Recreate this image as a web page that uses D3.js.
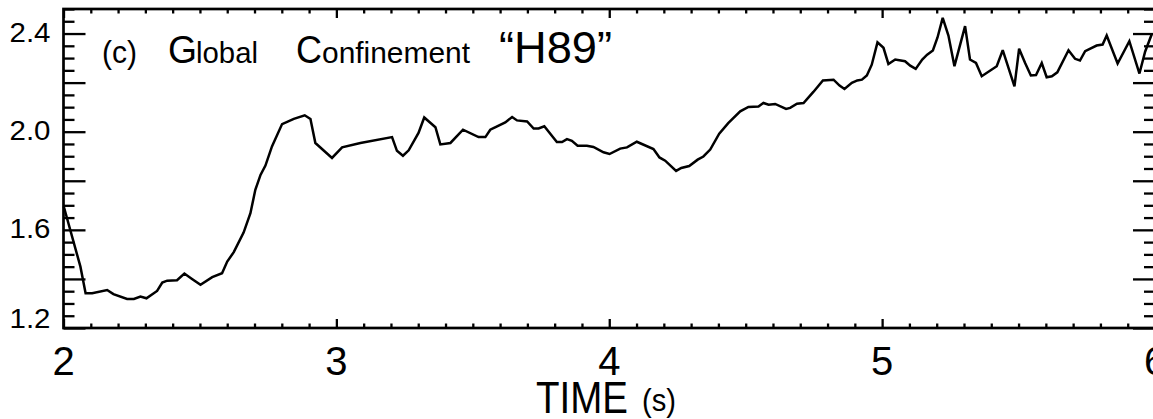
<!DOCTYPE html>
<html>
<head>
<meta charset="utf-8">
<script src="https://cdn.jsdelivr.net/npm/d3@7"></script>
<style>
  html, body { margin: 0; padding: 0; background: #fff; }
  svg { display: block; }
  text { font-family: "Liberation Sans", Arial, Helvetica, sans-serif; fill: #000; }
</style>
</head>
<body>
<svg id="chart" width="1153" height="419"></svg>
<script>
// ---- data ----
const time = [2.001,2.062,2.081,2.105,2.160,2.183,2.233,2.258,2.282,2.304,
  2.343,2.362,2.380,2.416,2.443,2.471,2.502,2.545,2.581,2.600,
  2.624,2.660,2.685,2.703,2.722,2.740,2.764,2.801,2.844,2.884,
  2.905,2.923,2.984,3.021,3.088,3.204,3.222,3.244,3.265,3.301,
  3.322,3.363,3.381,3.418,3.464,3.521,3.546,3.564,3.589,3.619,
  3.644,3.662,3.699,3.723,3.741,3.762,3.808,3.827,3.845,3.863,
  3.884,3.918,3.942,3.979,4.001,4.040,4.065,4.101,4.162,4.184,
  4.205,4.245,4.264,4.293,4.324,4.345,4.370,4.403,4.436,4.480,
  4.510,4.547,4.565,4.584,4.608,4.648,4.663,4.688,4.712,4.748,
  4.783,4.822,4.844,4.862,4.889,4.909,4.926,4.944,4.962,4.983,
  5.005,5.023,5.048,5.084,5.103,5.123,5.147,5.165,5.186,5.203,
  5.222,5.243,5.265,5.304,5.322,5.344,5.365,5.420,5.442,5.485,
  5.502,5.524,5.545,5.564,5.585,5.603,5.622,5.642,5.683,5.707,
  5.725,5.744,5.786,5.808,5.823,5.863,5.906,5.943,5.964,5.989];

const h89 = [1.695,1.450,1.342,1.342,1.355,1.338,1.318,1.318,1.328,1.321,
  1.351,1.385,1.393,1.395,1.422,1.400,1.376,1.407,1.423,1.471,
  1.509,1.589,1.668,1.763,1.824,1.862,1.940,2.031,2.052,2.067,
  2.052,1.954,1.893,1.936,1.954,1.978,1.922,1.902,1.924,1.995,
  2.058,2.018,1.948,1.954,2.008,1.978,1.978,2.008,2.022,2.038,
  2.060,2.046,2.042,2.013,2.013,2.022,1.958,1.958,1.970,1.963,
  1.943,1.943,1.938,1.916,1.909,1.931,1.936,1.959,1.929,1.895,
  1.882,1.840,1.852,1.860,1.886,1.899,1.927,1.992,2.035,2.083,
  2.101,2.103,2.117,2.110,2.113,2.093,2.097,2.114,2.117,2.162,
  2.209,2.212,2.188,2.174,2.199,2.209,2.212,2.229,2.273,2.364,
  2.342,2.276,2.294,2.287,2.269,2.256,2.294,2.314,2.331,2.384,
  2.464,2.392,2.267,2.430,2.294,2.280,2.226,2.267,2.332,2.185,
  2.338,2.280,2.229,2.231,2.280,2.222,2.226,2.242,2.332,2.297,
  2.290,2.328,2.351,2.355,2.392,2.278,2.369,2.237,2.327,2.400];

const xDomain = [2, 6];
const yDomain = [1.2, 2.5];
const xMajorTicks = [2, 3, 4, 5, 6];
const xLabels = ["2", "3", "4", "5", "6"];
const yMajorTicks = [1.2, 1.4, 1.6, 1.8, 2.0, 2.2, 2.4];
const yLabelTicks = [1.2, 1.6, 2.0, 2.4];
const yLabels = ["1.2", "1.6", "2.0", "2.4"];
const xTitle = "TIME";
const xUnit = "(s)";

(function () {
// ---- layout ----
const svg = d3.select("#chart");
const pLeft = 63.5, pRight = 1155, pTop = 9, pBottom = 328;

const x = d3.scaleLinear().domain(xDomain).range([pLeft, pRight]);
const y = d3.scaleLinear().domain(yDomain).range([pBottom, pTop]);

const xMinor = d3.range(21, 60).map(d => d / 10).filter(d => !xMajorTicks.some(m => Math.abs(m - d) < 1e-9));
const yMinor = d3.range(24, 51).map(d => d / 20).filter(d => !yMajorTicks.some(m => Math.abs(m - d) < 1e-9));

function styleAxis(g) {
  g.select(".domain").remove();
  g.selectAll(".tick text").remove();
  g.selectAll(".tick line").attr("stroke", "#000").attr("stroke-width", 2.3);
}

// bottom & top axes (ticks inward)
svg.append("g").attr("transform", `translate(0,${pBottom})`)
  .call(d3.axisBottom(x).tickValues(xMajorTicks).tickSize(-9)).call(styleAxis);
svg.append("g").attr("transform", `translate(0,${pBottom})`)
  .call(d3.axisBottom(x).tickValues(xMinor).tickSize(-4.5)).call(styleAxis);
svg.append("g").attr("transform", `translate(0,${pTop})`)
  .call(d3.axisTop(x).tickValues(xMajorTicks).tickSize(-9)).call(styleAxis);
svg.append("g").attr("transform", `translate(0,${pTop})`)
  .call(d3.axisTop(x).tickValues(xMinor).tickSize(-4.5)).call(styleAxis);

// left & right axes
svg.append("g").attr("transform", `translate(${pLeft},0)`)
  .call(d3.axisLeft(y).tickValues(yMajorTicks).tickSize(-22)).call(styleAxis);
svg.append("g").attr("transform", `translate(${pLeft},0)`)
  .call(d3.axisLeft(y).tickValues(yMinor).tickSize(-11)).call(styleAxis);
svg.append("g").attr("transform", `translate(${pRight},0)`)
  .call(d3.axisRight(y).tickValues(yMajorTicks).tickSize(-22)).call(styleAxis);
svg.append("g").attr("transform", `translate(${pRight},0)`)
  .call(d3.axisRight(y).tickValues(yMinor).tickSize(-11)).call(styleAxis);

// frame
svg.append("rect")
  .attr("x", pLeft).attr("y", pTop)
  .attr("width", pRight - pLeft).attr("height", pBottom - pTop)
  .attr("fill", "none").attr("stroke", "#000").attr("stroke-width", 2.7);

// data line
const line = d3.line().x((d, i) => x(time[i])).y(d => y(d));
svg.append("path")
  .datum(h89)
  .attr("d", line)
  .attr("fill", "none")
  .attr("stroke", "#000")
  .attr("stroke-width", 2.5)
  .attr("stroke-linejoin", "miter")
  .attr("stroke-miterlimit", 3);

// y tick labels
svg.selectAll(".ylab").data(yLabelTicks).enter().append("text")
  .attr("class", "ylab")
  .attr("x", pLeft - 13)
  .attr("y", d => Math.min(y(d) + 8, pBottom))
  .attr("text-anchor", "end")
  .attr("font-size", 27)
  .attr("textLength", 41)
  .attr("lengthAdjust", "spacingAndGlyphs")
  .text((d, i) => yLabels[i]);

// x tick labels
svg.selectAll(".xlab").data(xMajorTicks).enter().append("text")
  .attr("class", "xlab")
  .attr("x", d => x(d))
  .attr("y", 375)
  .attr("text-anchor", "middle")
  .attr("font-size", 40)
  .text((d, i) => xLabels[i]);

// x axis title
svg.append("text").attr("x", 536).attr("y", 413)
  .attr("font-size", 44).attr("textLength", 92).attr("lengthAdjust", "spacingAndGlyphs")
  .text(xTitle);
svg.append("text").attr("x", 642).attr("y", 411)
  .attr("font-size", 32).attr("textLength", 34).attr("lengthAdjust", "spacingAndGlyphs")
  .text(xUnit);

// panel title pieces
const titleParts = [
  { t: "(c)", x: 102, size: 32, len: 35 },
  { t: "G", x: 168, size: 38, len: 29 },
  { t: "lobal", x: 196, size: 29, len: 62 },
  { t: "C", x: 296, size: 38, len: 26 },
  { t: "onfinement", x: 322, size: 29, len: 148 },
  { t: "\u201CH89\u201D", x: 499, size: 44, len: 113 }
];
svg.selectAll(".ttl").data(titleParts).enter().append("text")
  .attr("class", "ttl")
  .attr("x", d => d.x).attr("y", 63)
  .attr("font-size", d => d.size)
  .attr("textLength", d => d.len)
  .attr("lengthAdjust", "spacingAndGlyphs")
  .text(d => d.t);
})();
</script>
</body>
</html>
